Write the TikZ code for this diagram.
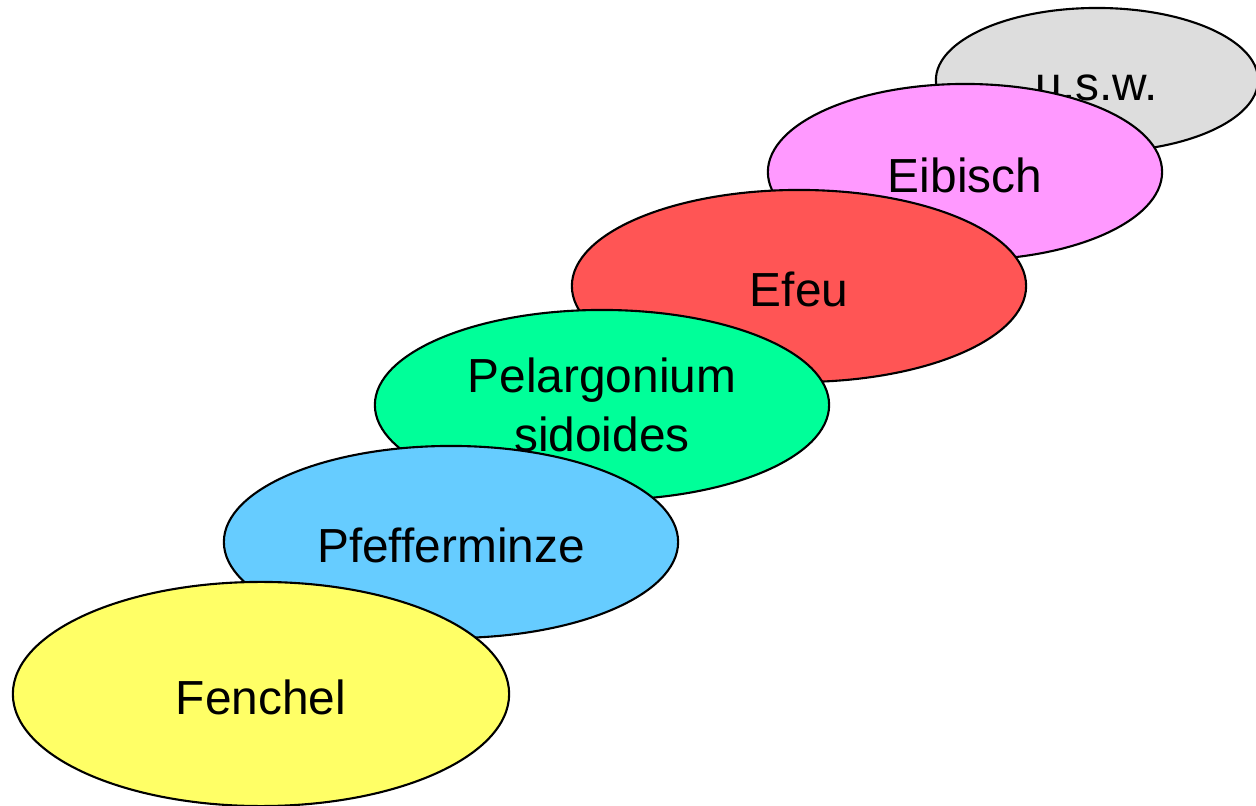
\documentclass[tikz,border=0pt]{standalone}
\usepackage{fontspec}
\setmainfont{Liberation Sans}
\usetikzlibrary{shapes.geometric}
\definecolor{lightyellow}{HTML}{FFFF66}
\definecolor{lightblue}{HTML}{66CCFF}
\definecolor{mintgreen}{HTML}{00FF99}
\definecolor{lightred}{HTML}{FF5555}
\definecolor{lightpink}{HTML}{FF99FF}
\definecolor{lightgrey}{HTML}{DDDDDD}

\begin{document}
\begin{tikzpicture}[x=0.01cm,y=-0.01cm,
  leaf/.style={ellipse,draw=black,line width=0.6pt,inner sep=0pt,align=center,
    font=\fontsize{13.6}{16.6}\selectfont},
  oneline/.style={text height=14.5pt,text depth=2.7pt}]
\useasboundingbox (0,0) rectangle (1256,806);
\node[leaf,oneline,fill=lightgrey,minimum width=3.22cm,minimum height=1.44cm] (usw) at (1097,80) {u.s.w.};
\node[leaf,oneline,fill=lightpink,minimum width=3.94cm,minimum height=1.76cm] (eibisch) at (965,172) {Eibisch};
\node[leaf,oneline,fill=lightred,minimum width=4.54cm,minimum height=1.92cm] (efeu) at (799,286) {Efeu};
\node[leaf,fill=mintgreen,minimum width=4.54cm,minimum height=1.90cm] (pelargonium) at (602,405) {Pelargonium\\sidoides};
\node[leaf,oneline,fill=lightblue,minimum width=4.54cm,minimum height=1.92cm] (pfefferminze) at (451,542) {Pfefferminze};
\node[leaf,oneline,fill=lightyellow,minimum width=4.96cm,minimum height=2.24cm] (fenchel) at (261,694) {Fenchel};
\end{tikzpicture}
\end{document}
